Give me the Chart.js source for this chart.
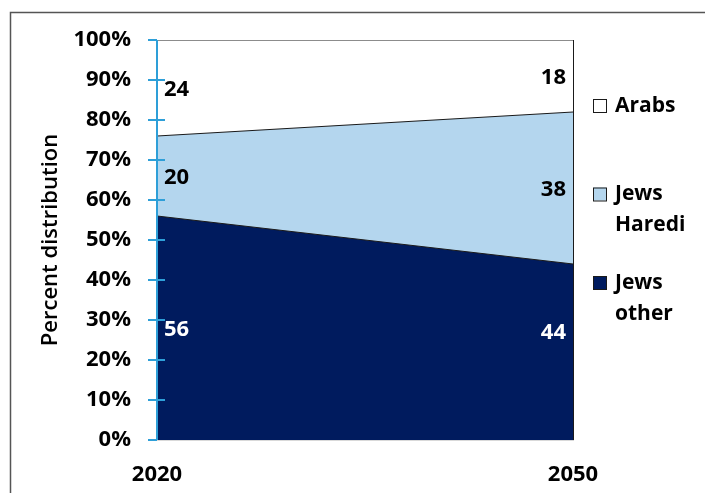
<!DOCTYPE html>
<html lang="en">

<head>
    <meta charset="UTF-8">
    <meta name="viewport" content="width=device-width, initial-scale=1.0">
    <script src="https://cdn.jsdelivr.net/npm/chart.js"></script>
    <title>Percent distribution</title>
    <style>
        body { margin: 0; background: #fff; }
        .box { position: relative; width: 705px; height: 493px; }
    </style>
</head>

<body>
    <div class="box">
        <canvas id="myChart"></canvas>
    </div>
</body>
<script>
    // years on the x axis and the share of each group (bottom to top)
    const anos = ['2020', '2050'];
    const nomes = ['Jews other', 'Jews Haredi', 'Arabs'];
    const jewsOther = [56, 44];
    const jewsHaredi = [20, 38];
    const arabs = [24, 18];
    const yTicks = [0, 10, 20, 30, 40, 50, 60, 70, 80, 90, 100];

    const cores = ['#001b5e', '#b4d6ee', '#ffffff'];
    const corTexto = ['#ffffff', '#000000', '#000000'];
    const azulEixo = '#2e9fd8';
    const fonte = "'Open Sans', sans-serif";

    // grey frame around the whole figure
    const moldura = {
        id: 'moldura',
        beforeDraw(chart) {
            const ctx = chart.ctx;
            ctx.save();
            ctx.fillStyle = '#fff';
            ctx.fillRect(0, 0, chart.width, chart.height);
            ctx.strokeStyle = '#555';
            ctx.lineWidth = 1.5;
            ctx.strokeRect(10.5, 12.5, 800, 600);
            ctx.restore();
        }
    };

    // blue y axis line with cross ticks, right edge of the areas
    const eixo = {
        id: 'eixo',
        afterDatasetsDraw(chart) {
            const ctx = chart.ctx;
            const y = chart.scales.y;
            const x = chart.scales.x;
            const a = chart.chartArea;
            ctx.save();
            const xr = x.getPixelForValue(anos.length - 1);
            ctx.strokeStyle = '#1a1a1a';
            ctx.lineWidth = 1;
            ctx.beginPath();
            ctx.moveTo(xr + 0.5, a.top);
            ctx.lineTo(xr + 0.5, a.bottom);
            ctx.stroke();

            const x0 = a.left;
            ctx.strokeStyle = azulEixo;
            ctx.lineWidth = 2;
            ctx.beginPath();
            ctx.moveTo(x0, a.top);
            ctx.lineTo(x0, a.bottom);
            yTicks.forEach(v => {
                const py = Math.round(y.getPixelForValue(v));
                ctx.moveTo(x0 - 9, py);
                ctx.lineTo(x0 + (v === 100 || v === 0 ? 0 : 8), py);
            });
            ctx.stroke();
            ctx.restore();
        }
    };

    // value labels inside each band
    const rotulos = {
        id: 'rotulos',
        afterDraw(chart, args, opts) {
            const ctx = chart.ctx;
            const y = chart.scales.y;
            const x = chart.scales.x;
            ctx.save();
            ctx.font = 'bold 22px ' + fonte;
            ctx.textBaseline = 'middle';
            chart.data.datasets.forEach((ds, i) => {
                ds.data.forEach((v, j) => {
                    let base = 0;
                    for (let k = 0; k < i; k++) base += chart.data.datasets[k].data[j];
                    const py = y.getPixelForValue(base + v / 2) + 2 + ((opts.ajuste[i + '-' + j]) || 0);
                    const px = x.getPixelForValue(j);
                    ctx.fillStyle = corTexto[i];
                    if (j === 0) {
                        ctx.textAlign = 'left';
                        ctx.fillText(v, px + 7, py);
                    } else {
                        ctx.textAlign = 'right';
                        ctx.fillText(v, px - 7, py);
                    }
                });
            });
            ctx.restore();
        }
    };

    // legend on the right, top item first, names wrapped by word
    const legenda = {
        id: 'legenda',
        afterDraw(chart) {
            const ctx = chart.ctx;
            ctx.save();
            ctx.font = 'bold 21px ' + fonte;
            ctx.textBaseline = 'middle';
            ctx.textAlign = 'left';
            const ordem = chart.data.datasets.map((d, i) => i).reverse();
            ordem.forEach((i, n) => {
                const ds = chart.data.datasets[i];
                const cy = 106 + n * 88.5;
                ctx.fillStyle = ds.backgroundColor;
                ctx.fillRect(593, cy - 7, 13, 13);
                ctx.strokeStyle = '#1a1a1a';
                ctx.lineWidth = 1;
                ctx.strokeRect(593.5, cy - 6.5, 13, 13);
                ctx.fillStyle = '#000';
                ds.label.split(' ').forEach((w, l) => {
                    ctx.fillText(w, 615, cy + l * 31);
                });
            });
            ctx.restore();
        }
    };

    const ctx = document.getElementById('myChart').getContext('2d');
    const myChart = new Chart(ctx, {
        type: 'line',
        data: {
            labels: anos,
            datasets: [jewsOther, jewsHaredi, arabs].map((d, i) => ({
                label: nomes[i],
                data: d,
                backgroundColor: cores[i],
                borderColor: '#1a1a1a',
                borderWidth: 1,
                pointRadius: 0,
                tension: 0,
                fill: i === 0 ? 'origin' : '-1'
            }))
        },
        options: {
            responsive: true,
            maintainAspectRatio: false,
            animation: false,
            layout: { padding: { left: 0, right: 132, top: 40, bottom: 0 } },
            plugins: {
                legend: { display: false },
                tooltip: { enabled: false },
                rotulos: { ajuste: { '0-1': -21 } }
            },
            scales: {
                x: {
                    offset: false,
                    grid: { display: false, drawTicks: false },
                    border: { color: '#d9d9d9', width: 2 },
                    ticks: {
                        color: '#000',
                        font: { family: fonte, size: 22, weight: 'bold' },
                        padding: 22,
                        maxRotation: 0,
                        autoSkip: false
                    },
                    afterFit(s) { s.height = 53; }
                },
                y: {
                    stacked: true,
                    min: 0,
                    max: 100,
                    grid: { display: false, drawTicks: false },
                    border: { display: false },
                    ticks: {
                        stepSize: 10,
                        color: '#000',
                        font: { family: fonte, size: 22, weight: 'bold' },
                        padding: 26,
                        callback: v => v + '%'
                    },
                    title: {
                        display: true,
                        text: 'Percent distribution',
                        color: '#000',
                        font: { family: fonte, size: 22, weight: '600' },
                        padding: { top: 38, bottom: 0 }
                    },
                    afterFit(s) { s.width = 157; }
                }
            }
        },
        plugins: [moldura, eixo, rotulos, legenda]
    });
</script>

</html>
